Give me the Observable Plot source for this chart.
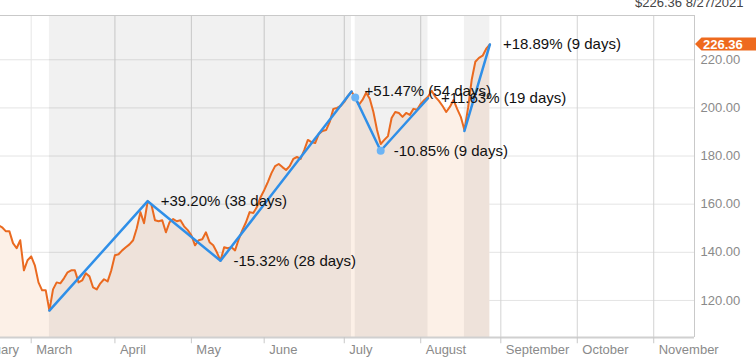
<!DOCTYPE html>
<html>
<head>
<meta charset="utf-8">
<script src="https://cdn.jsdelivr.net/npm/d3@7"></script>
<script src="https://cdn.jsdelivr.net/npm/@observablehq/plot@0.6"></script>
<style>
  html, body { margin: 0; padding: 0; background: #fff; }
  #chart svg { display: block; }
</style>
</head>
<body>
<div id="chart"></div>
<script>
// x = trading-day index (0 = 1 Mar 2021)
const firstDay = -9;
const prices = [
  151.3, 150.4, 148.8, 148.8, 143.8, 141.7, 145.0, 132.5, 136.7,
  138.3, 134.6, 127.5, 124.2, 124.2, 115.8, 124.6, 127.5, 127.1, 129.2,
  131.7, 132.5, 132.5, 127.5, 128.3, 131.3, 130.0, 125.4, 124.6, 127.1,
  128.8, 127.9, 132.5, 138.8, 139.2, 140.8, 142.1, 143.3, 145.0, 150.0,
  156.7, 152.1, 161.2, 160.0, 153.3, 152.9, 153.3, 148.3, 152.5, 153.8,
  152.9, 153.3, 150.8, 149.2, 147.1, 142.9, 145.0, 145.4, 148.3, 144.2,
  142.9, 140.0, 136.5, 142.1, 141.7, 142.1, 140.8, 145.4, 149.2, 152.5,
  156.7, 156.3, 158.8, 162.9, 165.8, 169.2, 172.9, 175.8, 176.7, 175.4,
  174.2, 175.8, 178.8, 179.6, 178.8, 182.5, 186.7, 185.8, 185.4, 189.2,
  190.4, 190.8, 194.2, 199.6, 200.0, 200.8, 202.5, 205.0, 206.8, 204.2,
  201.3, 203.3, 206.3, 203.8, 198.3, 190.8, 185.0, 186.7, 188.3, 195.8,
  198.3, 197.9, 196.3, 197.9, 197.1, 199.6, 199.2, 201.7, 203.3, 204.6,
  207.1, 204.6, 202.9, 200.8, 198.3, 200.4, 203.3, 199.6, 196.3, 190.8,
  200.0, 211.7, 219.2, 220.8, 221.7, 224.6, 226.36
];

const monthNames = ["February", "March", "April", "May", "June", "July", "August", "September", "October", "November"];
const monthStartDays = [-19, 0, 23, 44, 64, 86, 107, 129, 150, 171];
const yTicks = [120, 140, 160, 180, 200, 220];

const swingGroups = [0, 0, 0, 0, 1, 1, 1, 2, 2];
const swingDays   = [5, 32, 52, 88, 89, 96, 109, 119, 126];
const swingValues = [115.8, 161.25, 136.5, 206.8, 204.3, 182.2, 204.0, 190.4, 226.36];
const swingLabels = ["", "+39.20% (38 days)", "-15.32% (28 days)", "+51.47% (54 days)", "", "-10.85% (9 days)", "+11.63% (19 days)", "", "+18.89% (9 days)"];

const markerDays = [89, 96];
const markerValues = [204.3, 182.2];

const bandStart = [5, 89, 119];
const bandEnd = [88, 109, 126];

const lastPrice = 226.36;
const lastDate = "8/27/2021";

// ---- build tables
const X = [-8.43, 182.2];
const Y = [104.6, 238.4];
const series = prices.map((p, k) => ({day: firstDay + k, price: p}));
const swings = swingDays.map((d, k) => ({day: d, value: swingValues[k], group: swingGroups[k], label: swingLabels[k]}));
const markers = markerDays.map((d, k) => ({day: d, value: markerValues[k]}));
const bands = bandStart.map((s, k) => ({start: s, end: bandEnd[k]}));
const months = monthNames.map((n, k) => ({name: n, day: monthStartDays[k]}));
const visibleMonths = months.filter(m => m.day >= X[0]);

const orange = "#ea6a20";
const blue = "#2f8fe8";
const font = "'Liberation Sans', Arial, Helvetica, sans-serif";

const plot = Plot.plot({
  width: 756,
  height: 363,
  marginLeft: 0,
  marginRight: 62,
  marginTop: 15,
  marginBottom: 26,
  x: {domain: X, axis: null},
  y: {domain: Y, axis: null},
  style: {fontFamily: font, background: "white", overflow: "visible"},
  marks: [
    Plot.ruleY(yTicks, {stroke: "#e4e4e4"}),
    Plot.ruleX(visibleMonths.filter(m => m.day === 0), {x: "day", stroke: "#e6e6e6"}),
    Plot.ruleX(visibleMonths.filter(m => m.day !== 0), {x: "day", stroke: "#d3d3d3"}),
    Plot.areaY(series, {x: "day", y1: Y[0], y2: "price", fill: "#fcf0e7"}),
    Plot.rect(bands, {x1: "start", x2: "end", y1: Y[0], y2: Y[1], fill: "black", fillOpacity: 0.056}),
    Plot.ruleY([Y[1]], {stroke: "#c9c9c9"}),
    Plot.ruleX([X[1]], {stroke: "#c9c9c9"}),
    Plot.ruleY([Y[0]], {stroke: "#d0d0d0", strokeWidth: 2}),
    Plot.ruleX(visibleMonths, {x: "day", y1: Y[0], y2: Y[0] - 2.6, stroke: "#c8c8c8"}),
    Plot.text(months, {x: "day", y: Y[0], text: "name", dx: 5, dy: 12.5, textAnchor: "start", fill: "#8a8a8a", fontSize: 13}),
    Plot.text(yTicks, {x: X[1], y: d => d, text: d => d.toFixed(2), dx: 6, textAnchor: "start", fill: "#8a8a8a", fontSize: 13}),
    Plot.line(series, {x: "day", y: "price", stroke: orange, strokeWidth: 2}),
    Plot.line(swings, {x: "day", y: "value", z: "group", stroke: blue, strokeWidth: 2.5}),
    Plot.dot(markers, {x: "day", y: "value", r: 4, fill: "#6cb4f5"}),
    Plot.text(swings.filter(d => d.label), {x: "day", y: "value", text: "label", dx: 13, textAnchor: "start", fill: "#111", fontSize: 15}),
    Plot.text([`$${lastPrice.toFixed(2)} ${lastDate}`], {frameAnchor: "top-right", lineAnchor: "middle", dx: 49, dy: -12.3, textAnchor: "end", fill: "#444", fontSize: 13})
  ]
});

// price tag on the right axis, positioned with the plot's own scales
const ty = plot.scale("y").apply(lastPrice);
const tx = plot.scale("x").apply(X[1]);
const g = d3.select(plot).append("g");
g.append("path")
  .attr("d", `M${tx + 1},${ty} L${tx + 7.5},${ty - 6.5} H756 V${ty + 6.5} H${tx + 7.5} Z`)
  .attr("fill", "#ee6a1e");
g.append("text")
  .attr("x", tx + 9)
  .attr("y", ty)
  .attr("dy", "0.35em")
  .attr("text-anchor", "start")
  .attr("fill", "white")
  .attr("font-family", font)
  .attr("font-size", 13)
  .attr("font-weight", "bold")
  .text(lastPrice.toFixed(2));

document.getElementById("chart").appendChild(plot);
</script>
</body>
</html>
